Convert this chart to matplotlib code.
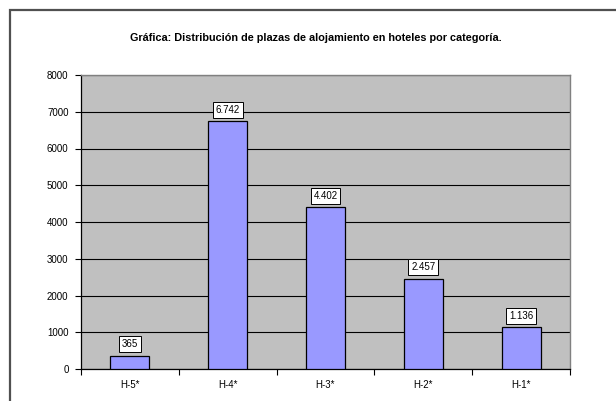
import matplotlib.pyplot as plt
from matplotlib.patches import Rectangle
from matplotlib.ticker import FixedLocator

categorias = ['H-5*', 'H-4*', 'H-3*', 'H-2*', 'H-1*']
plazas = [365, 6742, 4402, 2457, 1136]
etiquetas = ['365', '6.742', '4.402', '2.457', '1.136']
titulo = 'Gráfica: Distribución de plazas de alojamiento en hoteles por categoría.'

plt.rcParams['font.family'] = ['Liberation Sans', 'DejaVu Sans']

fig = plt.figure(figsize=(6.16, 4.01), dpi=100)
fig.patch.set_facecolor('white')

# marco exterior (recortado a la derecha y abajo)
fig.patches.append(Rectangle((10 / 616, -0.2), 1.5, 1 - 10 / 401 + 0.2,
                             transform=fig.transFigure, fill=False,
                             edgecolor='#505050', linewidth=1.6))

ax = fig.add_axes([81 / 616, 1 - 369 / 401, (570 - 81) / 616, (369 - 75) / 401])
ax.set_facecolor('#C0C0C0')

x = list(range(len(categorias)))
ax.bar(x, plazas, width=0.4, color='#9999FF', edgecolor='black', linewidth=0.9, zorder=3)

for xi, v, t in zip(x, plazas, etiquetas):
    ax.annotate(t, (xi, v), xytext=(0, 8.2), textcoords='offset points',
                ha='center', va='center', fontsize=7, zorder=4,
                bbox=dict(boxstyle='square,pad=0.3', fc='white', ec='black', lw=0.7))

ax.set_ylim(0, 8000)
ax.set_xlim(-0.5, len(categorias) - 0.5)
ax.set_yticks(range(0, 8001, 1000))
ax.yaxis.grid(True, color='black', linewidth=0.8, zorder=1)
ax.set_axisbelow(True)

ax.xaxis.set_major_locator(FixedLocator([i - 0.5 for i in range(len(categorias) + 1)]))
ax.xaxis.set_major_formatter(plt.NullFormatter())
ax.xaxis.set_minor_locator(FixedLocator(x))
ax.set_xticklabels(categorias, minor=True)
ax.tick_params(axis='x', which='minor', length=0, pad=8, labelsize=7)
ax.tick_params(axis='x', which='major', length=4, width=0.8, direction='out')
ax.tick_params(axis='y', length=4, width=0.8, direction='out', labelsize=7, pad=5)

for s in ['top', 'right']:
    ax.spines[s].set_color('#808080')
    ax.spines[s].set_linewidth(1.0)
for s in ['left', 'bottom']:
    ax.spines[s].set_color('black')
    ax.spines[s].set_linewidth(0.9)

fig.text(315.5 / 616, 1 - 38 / 401, titulo, ha='center', va='center',
         fontsize=7.8, fontweight='bold')

fig.savefig('out.png', dpi=100)
